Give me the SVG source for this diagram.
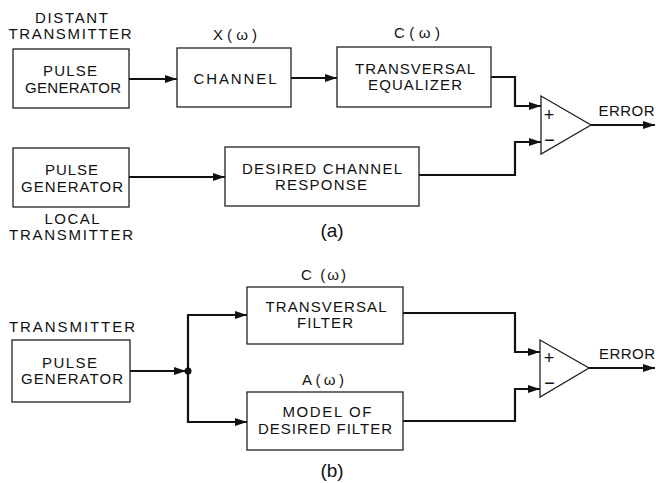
<svg xmlns="http://www.w3.org/2000/svg" width="656" height="483" viewBox="0 0 656 483">
<defs>
<marker id="arr" markerUnits="userSpaceOnUse" markerWidth="13" markerHeight="9" refX="12" refY="4" orient="auto">
<path d="M0,0 L12,4 L0,8 z" fill="#111"/>
</marker>
<style>
.box{fill:#fff;stroke:#222;stroke-width:1.3}
.tri{fill:#fff;stroke:#222;stroke-width:1.3;stroke-linejoin:miter}
.c{fill:none;stroke:#111;stroke-width:2.2}
.t{font-family:"Liberation Sans",Arial,sans-serif;font-size:15px;fill:#111;text-anchor:middle}
.s{font-family:"Liberation Sans",Arial,sans-serif;font-size:19px;fill:#111;text-anchor:middle}
.pm{font-family:"Liberation Sans",Arial,sans-serif;font-size:18px;fill:#111;text-anchor:middle}
</style>
</defs>
<rect width="656" height="483" fill="#fff"/>

<g id="connectors">
<path class="c" d="M129,79 H177" marker-end="url(#arr)"/>
<path class="c" d="M291,78 H337" marker-end="url(#arr)"/>
<path class="c" d="M491,77 H515 V106 H541" marker-end="url(#arr)"/>
<path class="c" d="M129,177 H225" marker-end="url(#arr)"/>
<path class="c" d="M419,175 H515 V142 H541" marker-end="url(#arr)"/>
<path class="c" d="M591,125 H655" marker-end="url(#arr)"/>
<path class="c" d="M130,371 H186" marker-end="url(#arr)"/>
<path class="c" d="M188,371 V315 H247" marker-end="url(#arr)"/>
<path class="c" d="M188,371 V422 H247" marker-end="url(#arr)"/>
<path class="c" d="M403,313 H515 V352 H540" marker-end="url(#arr)"/>
<path class="c" d="M403,421 H515 V389 H540" marker-end="url(#arr)"/>
<path class="c" d="M589,368 H655" marker-end="url(#arr)"/>
<circle cx="188" cy="371" r="3.5" fill="#111"/>
</g>

<g id="labels-a">
<text class="t" x="71.5" y="23" textLength="73" lengthAdjust="spacing">DISTANT</text>
<text class="t" x="70" y="39" textLength="123" lengthAdjust="spacing">TRANSMITTER</text>
<text class="t" x="235" y="40" textLength="44" lengthAdjust="spacing">X(ω)</text>
<text class="t" x="417" y="38" textLength="46" lengthAdjust="spacing">C(ω)</text>
<text class="t" x="626.5" y="116" textLength="56" lengthAdjust="spacing">ERROR</text>
<text class="t" x="72" y="224" textLength="55" lengthAdjust="spacing">LOCAL</text>
<text class="t" x="71" y="240" textLength="124" lengthAdjust="spacing">TRANSMITTER</text>
<text class="s" x="332" y="237">(a)</text>
</g>

<g id="pulse-gen-a1">
<rect class="box" x="13" y="49" width="116" height="59"/>
<text class="t" x="70" y="76" textLength="54" lengthAdjust="spacing">PULSE</text>
<text class="t" x="73" y="93" textLength="96" lengthAdjust="spacing">GENERATOR</text>
</g>
<g id="channel">
<rect class="box" x="177" y="48" width="114" height="59"/>
<text class="t" x="235" y="84" textLength="83" lengthAdjust="spacing">CHANNEL</text>
</g>
<g id="equalizer">
<rect class="box" x="337" y="47" width="154" height="60"/>
<text class="t" x="415" y="74" textLength="120" lengthAdjust="spacing">TRANSVERSAL</text>
<text class="t" x="415" y="90" textLength="94" lengthAdjust="spacing">EQUALIZER</text>
</g>
<g id="sum-a">
<path class="tri" d="M541,96 L591,125 L541,154 z"/>
<text class="pm" x="549" y="121">+</text>
<text class="pm" x="549.5" y="146">−</text>
</g>
<g id="pulse-gen-a2">
<rect class="box" x="13" y="148" width="116" height="59"/>
<text class="t" x="71.5" y="175" textLength="53" lengthAdjust="spacing">PULSE</text>
<text class="t" x="72" y="192" textLength="102" lengthAdjust="spacing">GENERATOR</text>
</g>
<g id="desired-response">
<rect class="box" x="225" y="147" width="194" height="59"/>
<text class="t" x="322" y="174" textLength="160" lengthAdjust="spacing">DESIRED CHANNEL</text>
<text class="t" x="321" y="190" textLength="92" lengthAdjust="spacing">RESPONSE</text>
</g>

<g id="labels-b">
<text class="t" x="72" y="332" textLength="126" lengthAdjust="spacing">TRANSMITTER</text>
<text class="t" x="323.5" y="280" textLength="45" lengthAdjust="spacing">C (ω)</text>
<text class="t" x="323" y="385" textLength="42" lengthAdjust="spacing">A(ω)</text>
<text class="t" x="627" y="359" textLength="56" lengthAdjust="spacing">ERROR</text>
<text class="s" x="332" y="477">(b)</text>
</g>
<g id="pulse-gen-b">
<rect class="box" x="12" y="340" width="118" height="62"/>
<text class="t" x="69.5" y="368" textLength="55" lengthAdjust="spacing">PULSE</text>
<text class="t" x="72" y="384" textLength="102" lengthAdjust="spacing">GENERATOR</text>
</g>
<g id="transversal-filter">
<rect class="box" x="247" y="287" width="156" height="57"/>
<text class="t" x="326" y="312" textLength="121" lengthAdjust="spacing">TRANSVERSAL</text>
<text class="t" x="325" y="328" textLength="56" lengthAdjust="spacing">FILTER</text>
</g>
<g id="model-filter">
<rect class="box" x="247" y="392" width="156" height="58"/>
<text class="t" x="327" y="417" textLength="89" lengthAdjust="spacing">MODEL OF</text>
<text class="t" x="325" y="434" textLength="134" lengthAdjust="spacing">DESIRED FILTER</text>
</g>
<g id="sum-b">
<path class="tri" d="M540,340 L589,368 L540,397 z"/>
<text class="pm" x="549" y="364">+</text>
<text class="pm" x="549.5" y="389">−</text>
</g>
</svg>
